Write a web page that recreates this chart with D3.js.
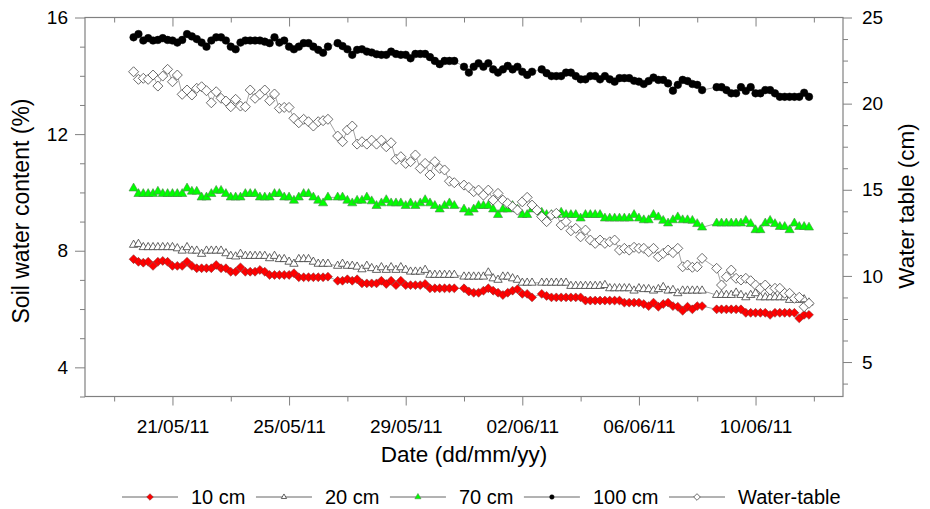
<!DOCTYPE html>
<html>
<head>
<meta charset="utf-8">
<script src="https://cdn.jsdelivr.net/npm/d3@7/dist/d3.min.js"></script>
<style>
  body { margin: 0; background: #fff; }
  svg { font-family: "Liberation Sans", Arial, sans-serif; }
</style>
</head>
<body>
<svg id="chart"></svg>
<script>
// readings every 4 h, first one 19/05/11 16:00 (null = missing reading)
const startTime = new Date(2011, 4, 19, 16);
const stepHours = 4;

const soil10 = [
  7.71, 7.62, 7.59, 7.62, 7.48, 7.62, 7.65, 7.62, 7.48, 7.48,
  7.48, 7.62, 7.48, 7.40, 7.40, 7.40, 7.40, 7.51, 7.40, 7.40,
  7.28, 7.28, 7.43, 7.28, 7.28, 7.28, 7.34, 7.28, 7.17, 7.17,
  7.17, 7.17, 7.17, 7.23, 7.09, 7.09, 7.09, 7.09, 7.09, 7.09,
  7.11, null, 6.97, 6.97, 7.02, 6.97, 7.02, 6.88, 6.88, 6.88,
  6.88, 6.97, 6.86, 6.97, 6.82, 6.97, 6.82, 6.82, 6.82, 6.82,
  6.86, 6.71, 6.71, 6.71, 6.71, 6.71, 6.71, null, 6.71, 6.60,
  6.56, 6.56, 6.63, 6.71, 6.63, 6.56, 6.48, 6.56, 6.63, 6.68,
  6.52, 6.52, 6.40, null, 6.52, 6.45, 6.40, 6.40, 6.40, 6.40,
  6.40, 6.40, 6.40, 6.29, 6.29, 6.29, 6.29, 6.29, 6.29, 6.29,
  6.29, 6.22, 6.22, 6.22, 6.22, 6.17, 6.10, 6.22, 6.08, 6.17,
  6.22, 6.10, 6.08, 5.94, 6.08, 5.99, 6.10, 6.10, null, null,
  5.99, 5.99, 5.99, 5.99, 5.99, 5.99, 5.87, 5.87, 5.87, 5.87,
  5.87, 5.80, 5.87, 5.87, 5.87, 5.87, 5.87, 5.68, 5.80, 5.80
];

const soil20 = [
  8.20, 8.23, 8.12, 8.12, 8.12, 8.12, 8.12, 8.12, 8.12, 8.08,
  8.00, 8.12, 8.00, 8.00, 7.89, 8.00, 8.00, 8.00, 8.00, 7.91,
  7.82, 7.80, 7.89, 7.82, 7.82, 7.82, 7.82, 7.82, 7.74, 7.82,
  7.71, 7.71, 7.62, 7.55, 7.71, 7.71, 7.71, 7.62, 7.55, 7.55,
  7.55, null, 7.48, 7.55, 7.48, 7.48, 7.45, 7.36, 7.48, 7.40,
  7.34, 7.43, 7.34, 7.43, 7.34, 7.43, 7.34, 7.28, 7.28, 7.28,
  7.34, 7.17, 7.17, 7.17, 7.17, 7.17, 7.17, null, 7.11, 7.11,
  7.11, 7.11, 7.11, 7.25, 7.05, 7.00, 7.11, 7.11, 7.05, 7.00,
  6.90, 6.90, 6.90, null, 6.90, 6.90, 6.90, 6.90, 6.90, 6.90,
  6.79, 6.79, 6.79, 6.79, 6.79, 6.79, 6.79, 6.82, 6.71, 6.71,
  6.71, 6.71, 6.71, 6.63, 6.71, 6.68, 6.68, 6.63, 6.68, 6.75,
  6.63, 6.65, 6.54, 6.63, 6.63, 6.63, 6.63, 6.63, null, null,
  6.48, 6.48, 6.48, 6.48, 6.56, 6.48, 6.40, 6.48, 6.54, 6.40,
  6.40, 6.40, 6.40, 6.40, 6.40, 6.31, 6.37, 6.31, 6.33, 6.22
];

const soil70 = [
  10.14, 9.95, 9.95, 9.95, 9.95, 10.03, 9.95, 9.95, 9.95, 9.95,
  9.95, 10.14, 10.03, 10.03, 9.83, 9.83, 9.95, 10.06, 10.06, 9.95,
  9.83, 9.83, 9.83, 9.95, 9.95, 9.95, 9.83, 9.83, 9.83, 9.95,
  9.95, 9.83, 9.83, 9.72, 9.83, 9.95, 9.95, 9.83, 9.72, 9.63,
  9.83, null, 9.83, 9.83, 9.72, 9.63, 9.72, 9.72, 9.83, 9.70,
  9.54, 9.63, 9.74, 9.63, 9.63, 9.63, 9.54, 9.63, 9.54, 9.63,
  9.74, 9.63, 9.54, 9.42, 9.54, 9.63, 9.54, null, 9.42, 9.31,
  9.42, 9.54, 9.54, 9.54, 9.42, 9.23, 9.42, 9.42, 9.54, 9.42,
  9.23, 9.23, 9.42, null, 9.31, 9.23, 9.23, 9.23, 9.31, 9.23,
  9.23, 9.23, 9.11, 9.23, 9.23, 9.23, 9.23, 9.11, 9.11, 9.11,
  9.11, 9.11, 9.11, 9.23, 9.11, 9.05, 9.05, 9.23, 9.15, 9.03,
  8.94, 9.05, 9.15, 9.05, 9.05, 9.03, 8.92, 8.80, null, null,
  8.94, 8.94, 8.94, 8.94, 8.94, 8.94, 9.03, 8.92, 8.71, 8.71,
  8.94, 9.03, 8.92, 8.82, 8.82, 8.71, 8.94, 8.82, 8.82, 8.80
];

const soil100 = [
  15.32, 15.43, 15.21, 15.29, 15.21, 15.23, 15.29, 15.23, 15.21, 15.14,
  15.23, 15.43, 15.35, 15.26, 15.14, 15.00, 15.21, 15.32, 15.32, 15.21,
  15.00, 14.91, 15.14, 15.21, 15.21, 15.21, 15.21, 15.17, 15.12, 15.32,
  15.14, 15.21, 15.00, 14.91, 15.00, 15.12, 15.12, 15.00, 14.89, 14.79,
  15.00, null, 15.12, 15.02, 14.91, 14.72, 14.89, 14.91, 14.83, 14.80,
  14.74, 14.72, 14.72, 14.83, 14.75, 14.72, 14.72, 14.60, 14.75, 14.75,
  14.75, 14.64, 14.51, 14.40, 14.51, 14.51, 14.51, null, 14.31, 14.11,
  14.31, 14.43, 14.31, 14.43, 14.22, 14.11, 14.22, 14.34, 14.22, 14.31,
  14.14, 14.03, 14.14, null, 14.22, 14.09, 13.99, 13.99, 13.99, 14.11,
  14.11, 13.99, 13.88, 13.88, 13.99, 13.99, 13.88, 13.99, 13.88, 13.80,
  13.92, 13.92, 13.92, 13.83, 13.80, 13.72, 13.82, 13.94, 13.86, 13.86,
  13.74, 13.49, 13.69, 13.86, 13.82, 13.72, 13.69, 13.51, null, null,
  13.61, 13.61, 13.51, 13.40, 13.40, 13.61, 13.48, 13.61, 13.40, 13.40,
  13.51, 13.51, 13.40, 13.28, 13.28, 13.28, 13.28, 13.28, 13.42, 13.28
];

const waterTable = [
  21.85, 21.41, 21.47, 21.41, 21.66, 21.02, 21.60, 21.99, 21.27, 21.66,
  20.54, 20.79, 20.50, 20.89, 20.98, 20.75, 20.05, 20.69, 20.31, 20.15,
  19.82, 20.25, 19.86, 19.82, 20.79, 20.31, 20.54, 20.79, 20.17, 20.56,
  19.73, 19.78, 19.78, 19.15, 18.89, 19.09, 18.95, 18.70, 18.95, 19.01,
  19.09, null, 18.12, 17.79, 18.47, 18.70, 17.65, 17.79, 17.65, 17.88,
  17.65, 17.88, 17.50, 17.73, 16.77, 16.92, 16.53, 16.63, 17.02, 16.24,
  16.53, 15.86, 16.63, 16.24, 16.15, 15.50, 15.41, null, 15.27, 15.14,
  14.89, 14.98, 14.69, 14.98, 14.40, 14.79, 14.40, 14.21, 14.02, 13.82,
  14.30, 14.56, 14.11, 13.82, 13.44, 13.15, 13.53, 13.63, 12.95, 13.15,
  12.62, 12.76, 12.27, 12.66, 12.08, 11.89, 12.08, 11.89, 11.98, 12.08,
  11.50, 11.60, 11.50, 11.66, 11.60, 11.60, 11.40, 11.60, 11.11, 11.31,
  11.50, 11.35, 11.60, 10.53, 10.63, 10.50, 10.53, 11.02, null, null,
  10.44, 9.47, 9.95, 10.34, 9.86, 9.76, 9.86, 9.72, 9.47, 9.28,
  9.47, 9.18, 9.28, 9.28, 8.99, 8.99, 8.70, 8.76, 8.21, 8.41
];

const seriesNames = ['10 cm', '20 cm', '70 cm', '100 cm', 'Water-table'];
const xDomain = ['18/05/11', '13/06/11'];
const xTickLabels = ['21/05/11', '25/05/11', '29/05/11', '02/06/11', '06/06/11', '10/06/11'];
const xMinorLabels = ['19/05/11', '23/05/11', '27/05/11', '31/05/11', '04/06/11', '08/06/11', '12/06/11'];
const leftTicks = [4, 8, 12, 16];
const rightTicks = [5, 10, 15, 20, 25];

class SoilWaterChart {

  constructor(_config) {
    this.config = {
      parentElement: _config.parentElement,
      containerWidth: _config.containerWidth || 930,
      containerHeight: _config.containerHeight || 509,
      margin: {top: 17.5, right: 87, bottom: 112.5, left: 85}
    }
    this.initVis();
  }

  initVis() {
    let vis = this;
    const m = vis.config.margin;
    vis.width = vis.config.containerWidth - m.left - m.right;
    vis.height = vis.config.containerHeight - m.top - m.bottom;

    vis.svg = d3.select(vis.config.parentElement)
      .attr('width', vis.config.containerWidth)
      .attr('height', vis.config.containerHeight);

    vis.chart = vis.svg.append('g')
      .attr('transform', `translate(${m.left},${m.top})`);

    const parse = d3.timeParse('%d/%m/%y');

    vis.xScale = d3.scaleTime()
      .domain(xDomain.map(parse))
      .range([0, vis.width]);

    vis.yLeft = d3.scaleLinear().domain([3, 16]).range([vis.height, 0]);
    vis.yRight = d3.scaleLinear().domain([3, 25]).range([vis.height, 0]);

    const grey = '#808080';
    const fmt = d3.timeFormat('%d/%m/%y');

    // bottom axis, major + minor ticks
    vis.chart.append('g')
      .attr('class', 'axis')
      .attr('transform', `translate(0,${vis.height})`)
      .call(d3.axisBottom(vis.xScale).tickValues(xTickLabels.map(parse))
        .tickFormat(fmt).tickSize(9).tickSizeOuter(0).tickPadding(14.5));
    vis.chart.append('g')
      .attr('class', 'axis')
      .attr('transform', `translate(0,${vis.height})`)
      .call(d3.axisBottom(vis.xScale).tickValues(xMinorLabels.map(parse))
        .tickFormat('').tickSize(5).tickSizeOuter(0));

    // top ticks point inward
    vis.chart.append('g')
      .attr('class', 'axis')
      .call(d3.axisTop(vis.xScale).tickValues(xTickLabels.map(parse))
        .tickFormat('').tickSize(-9).tickSizeOuter(0));
    vis.chart.append('g')
      .attr('class', 'axis')
      .call(d3.axisTop(vis.xScale).tickValues(xMinorLabels.map(parse))
        .tickFormat('').tickSize(-5).tickSizeOuter(0));

    // left axis
    vis.chart.append('g')
      .attr('class', 'axis')
      .call(d3.axisLeft(vis.yLeft).tickValues(leftTicks)
        .tickSize(10).tickSizeOuter(0).tickPadding(7));
    vis.chart.append('g')
      .attr('class', 'axis')
      .call(d3.axisLeft(vis.yLeft).tickValues(d3.range(3, 16, 1).filter(v => v % 4 !== 0))
        .tickFormat('').tickSize(5).tickSizeOuter(0));

    // right axis
    vis.chart.append('g')
      .attr('class', 'axis')
      .attr('transform', `translate(${vis.width},0)`)
      .call(d3.axisRight(vis.yRight).tickValues(rightTicks)
        .tickSize(9).tickSizeOuter(0).tickPadding(10));
    vis.chart.append('g')
      .attr('class', 'axis')
      .attr('transform', `translate(${vis.width},0)`)
      .call(d3.axisRight(vis.yRight).tickValues(d3.range(3.75, 25, 1.25).filter(v => v % 5 !== 0))
        .tickFormat('').tickSize(5).tickSizeOuter(0));

    vis.chart.selectAll('.axis .domain').remove();
    vis.chart.selectAll('.axis line').attr('stroke', grey);
    vis.chart.selectAll('.axis text')
      .style('font-size', '19px')
      .attr('fill', '#000');

    // frame
    vis.chart.append('rect')
      .attr('width', vis.width)
      .attr('height', vis.height)
      .attr('fill', 'none')
      .attr('stroke', grey)
      .attr('stroke-width', 1.2);

    // axis titles
    vis.svg.append('text')
      .attr('x', m.left + vis.width / 2)
      .attr('y', 462)
      .attr('text-anchor', 'middle')
      .style('font-size', '22.5px')
      .text('Date (dd/mm/yy)');

    vis.svg.append('text')
      .attr('transform', `translate(29,${m.top + vis.height / 2 + 4}) rotate(-90)`)
      .attr('text-anchor', 'middle')
      .style('font-size', '23px')
      .text('Soil water content (%)');

    vis.svg.append('text')
      .attr('transform', `translate(914,${m.top + vis.height / 2 - 1}) rotate(-90)`)
      .attr('text-anchor', 'middle')
      .style('font-size', '22.5px')
      .text('Water table (cm)');

    vis.series = [
      {name: seriesNames[0], values: soil10, y: vis.yLeft, shape: d3.symbolSquare, rot: 45, size: 40, legendSize: 22, fill: '#ff0000', stroke: '#7a2a2a', sw: 0.5},
      {name: seriesNames[1], values: soil20, y: vis.yLeft, shape: d3.symbolTriangle, rot: 0, size: 30, legendSize: 12, fill: '#ffffff', stroke: '#3c3c3c', sw: 0.8},
      {name: seriesNames[2], values: soil70, y: vis.yLeft, shape: d3.symbolTriangle, rot: 0, size: 36, legendSize: 16, fill: '#00ff00', stroke: '#4a8a4a', sw: 0.6},
      {name: seriesNames[3], values: soil100, y: vis.yLeft, shape: d3.symbolCircle, rot: 0, size: 46, legendSize: 16, fill: '#000000', stroke: '#000000', sw: 0.5},
      {name: seriesNames[4], values: waterTable, y: vis.yRight, shape: d3.symbolSquare, rot: 45, size: 50, legendSize: 22, fill: '#ffffff', stroke: '#505050', sw: 0.8}
    ];

    vis.updateVis();
  }

  updateVis() {
    let vis = this;

    vis.series.forEach(s => {
      const pts = s.values
        .map((v, i) => ({t: d3.timeHour.offset(startTime, i * stepHours), v: v}))
        .filter(d => d.v !== null);

      const line = d3.line()
        .x(d => vis.xScale(d.t))
        .y(d => s.y(d.v));

      vis.chart.append('path')
        .datum(pts)
        .attr('d', line)
        .attr('fill', 'none')
        .attr('stroke', '#8c8c8c')
        .attr('stroke-width', 0.8);

      const sym = d3.symbol(s.shape, s.size);
      vis.chart.append('g')
        .selectAll('path')
        .data(pts)
        .join('path')
        .attr('d', sym)
        .attr('transform', d => `translate(${vis.xScale(d.t)},${s.y(d.v)}) rotate(${s.rot})`)
        .attr('fill', s.fill)
        .attr('stroke', s.stroke)
        .attr('stroke-width', s.sw);
    });

    // legend
    const legend = vis.svg.append('g').attr('transform', 'translate(122,497)');
    let xPos = 0;
    vis.series.forEach(s => {
      legend.append('line')
        .attr('x1', xPos).attr('x2', xPos + 56)
        .attr('stroke', '#555').attr('stroke-width', 0.9);
      legend.append('path')
        .attr('d', d3.symbol(s.shape, s.legendSize))
        .attr('transform', `translate(${xPos + 28},0) rotate(${s.rot})`)
        .attr('fill', s.fill)
        .attr('stroke', s.stroke)
        .attr('stroke-width', s.sw);
      const txt = legend.append('text')
        .attr('x', xPos + 69)
        .attr('y', 7)
        .style('font-size', '20px')
        .text(s.name);
      xPos += 69 + txt.node().getComputedTextLength() + 10.5;
    });
  }
}

new SoilWaterChart({parentElement: '#chart'});
</script>
</body>
</html>
